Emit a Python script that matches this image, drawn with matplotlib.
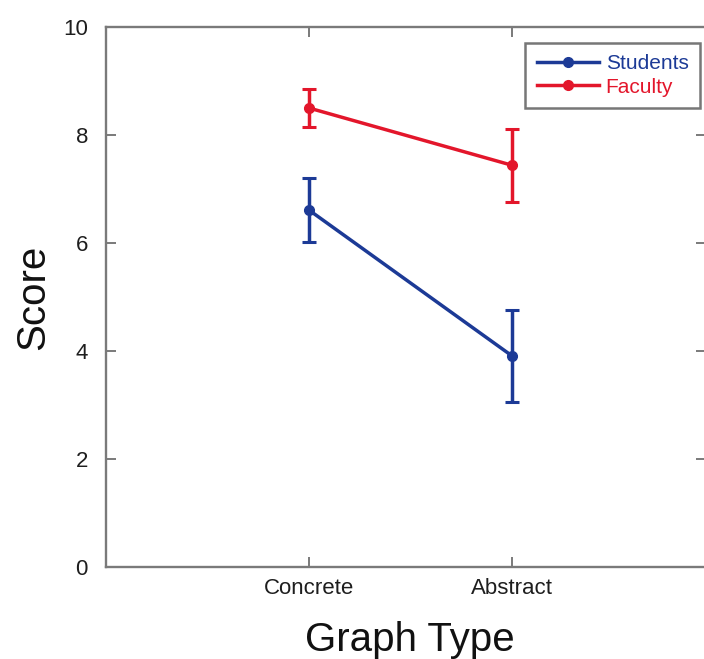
import matplotlib
matplotlib.use("Agg")
import matplotlib.pyplot as plt
from matplotlib.lines import Line2D

plt.rcParams['font.family'] = ['Liberation Sans', 'DejaVu Sans']

# Data
categories = ["Concrete", "Abstract"]
students_mean = [6.61, 3.91]
students_err = [0.60, 0.85]
faculty_mean = [8.50, 7.44]
faculty_err = [0.35, 0.68]
y_ticks = [0, 2, 4, 6, 8, 10]

blue = "#1c3a96"
red = "#e3162b"
spine_grey = "#7a7a7a"

W, H = 704, 659
fig = plt.figure(figsize=(W / 100, H / 100), dpi=100)
ax = fig.add_axes([106 / W, 92 / H, 600 / W, 540 / H])

x = [1, 2]
handles = []
for mean, err, color, label in [
    (students_mean, students_err, blue, "Students"),
    (faculty_mean, faculty_err, red, "Faculty"),
]:
    ax.errorbar(x, mean, yerr=err, color=color, lw=2.5, marker="o", ms=7,
                capsize=5, capthick=2.2, elinewidth=2.5)
    handles.append(Line2D([], [], color=color, lw=2.5, marker="o", ms=7,
                          label=label))

ax.set_xlim(0, 2.956)
ax.set_ylim(0, 10)
ax.set_xticks(x)
ax.set_xticklabels(categories)
ax.set_yticks(y_ticks)

for s in ax.spines.values():
    s.set_color(spine_grey)
    s.set_linewidth(1.7)

ax.tick_params(axis="both", direction="in", length=7, width=1.4,
               color=spine_grey, top=True, right=True, labelsize=16,
               labelcolor="#1e1e1e")
ax.tick_params(axis="y", pad=13)
ax.tick_params(axis="x", pad=8)

ax.set_xlabel("Graph Type", fontsize=29, color="#111111", labelpad=16)
ax.xaxis.label.set_x(0.507)
ax.set_ylabel("Score", fontsize=29, color="#111111")
ax.yaxis.set_label_coords(-0.089, 0.5)

leg = ax.legend(handles=handles, loc="upper right",
                bbox_to_anchor=(700 / W, 1 - 43 / H),
                bbox_transform=fig.transFigure,
                fontsize=15, labelcolor="linecolor", frameon=True,
                fancybox=False, handlelength=3.0, handletextpad=0.3,
                borderpad=0.55, labelspacing=0.2, borderaxespad=0)
leg.get_frame().set_edgecolor("#555555")
leg.get_frame().set_linewidth(1.8)

fig.savefig("out.png", dpi=100)
